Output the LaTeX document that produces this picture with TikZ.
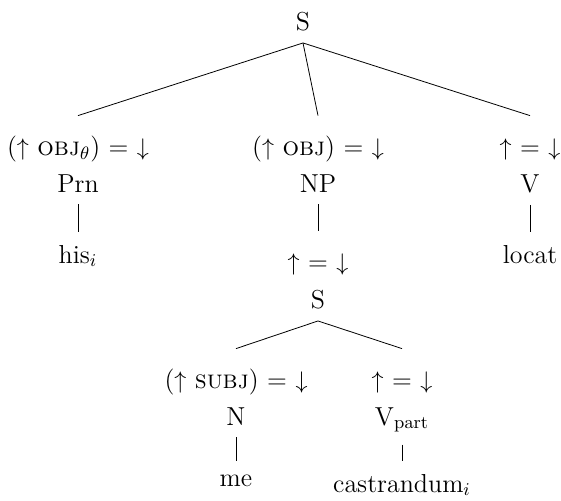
\documentclass[tikz,border=0pt]{standalone}
\usetikzlibrary{positioning}

\begin{document}
\begin{tikzpicture}[
    x=0.5pt, y=-0.5pt,
    font=\fontsize{13}{15}\selectfont,
    every node/.style={
      anchor=base,
      inner xsep=0pt
    },
    cat/.style={inner ysep=6pt},
    ann/.style={text height=8pt, inner ysep=11.5pt},
    word/.style={inner ysep=6.5pt}
  ]
  \useasboundingbox (0,0) rectangle (561,500);

  % top clause
  \node[cat] (s) at (303,30) {S};

  \node[ann] (objth) at (78,155) {($\uparrow$ \textsc{obj}$_\theta$) = $\downarrow$};
  \node[ann] (obj) at (318,155) {($\uparrow$ \textsc{obj}) = $\downarrow$};
  \node[ann] (head) at (530,155) {$\uparrow$ = $\downarrow$};

  \node[cat] (prn) at (78,192) {Prn};
  \node[cat] (np) at (318,192) {NP};
  \node[cat] (v) at (530,192) {V};

  \node[word] (his) at (78,263) {his$_i$};
  \node[ann] (nphead) at (318,270) {$\uparrow$ = $\downarrow$};
  \node[word] (locat) at (530,263) {locat};

  % embedded clause
  \node[cat] (s2) at (318,308) {S};

  \node[ann] (subj) at (236,388) {($\uparrow$ \textsc{subj}) = $\downarrow$};
  \node[ann] (vhead) at (402,388) {$\uparrow$ = $\downarrow$};

  \node[cat] (n) at (236,425) {N};
  \node[cat] (vpart) at (402,425) {V$_{\mathrm{part}}$};

  \node[word] (me) at (236,486) {me};
  \node[word] (castr) at (402,492) {castrandum$_i$};

  \foreach \kid in {objth, obj, head}{
    \draw (s.south) -- (\kid.north);
  }
  \foreach \kid in {subj, vhead}{
    \draw (s2.south) -- (\kid.north);
  }
  \foreach \up/\down in {prn/his, np/nphead, v/locat, n/me, vpart/castr}{
    \draw (\up.south) -- (\down.north);
  }
\end{tikzpicture}
\end{document}
